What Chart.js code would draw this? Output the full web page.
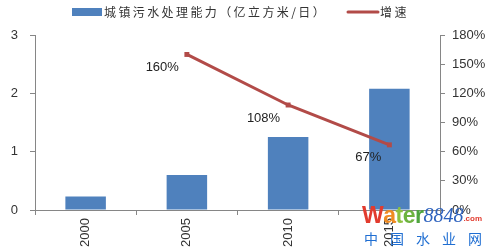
<!DOCTYPE html>
<html>
<head>
<meta charset="utf-8">
<script src="https://cdn.jsdelivr.net/npm/chart.js@4.4.1/dist/chart.umd.min.js"></script>
<style>
  html, body { margin: 0; padding: 0; background: #fff; }
  #wrap { width: 492px; height: 252px; position: relative; }
</style>
</head>
<body>
<div id="wrap"><canvas id="c" width="492" height="252"></canvas></div>
<script>
// Urban wastewater treatment capacity and its growth rate
const years = ['2000', '2005', '2010', '2015'];
const capacity = [0.23, 0.6, 1.25, 2.08];      // 亿立方米/日
const growth = [null, 160, 108, 67];             // %
const capacityTicks = [0, 1, 2, 3];
const growthTicks = [0, 30, 60, 90, 120, 150, 180];

const BLUE = '#4F81BD';
const RED = '#B24B48';
const AXIS = '#868686';
const TEXT = '#333333';
const TICK_FONT = { family: '"Liberation Sans", Arial, sans-serif', size: 13 };
const CJK = '"Noto Sans CJK SC", sans-serif';

// Percent labels beside the growth-rate points
const pointLabels = {
  id: 'pointLabels',
  afterDatasetsDraw(chart) {
    const meta = chart.getDatasetMeta(1);
    const ctx = chart.ctx;
    ctx.save();
    ctx.font = '13px "Liberation Sans", Arial, sans-serif';
    ctx.fillStyle = '#222';
    ctx.textAlign = 'right';
    ctx.textBaseline = 'middle';
    meta.data.forEach((pt, i) => {
      const v = growth[i];
      if (v == null) return;
      ctx.fillText(v + '%', pt.x - 8, pt.y + 13);
    });
    ctx.restore();
  }
};

// Legend row across the top
const topLegend = {
  id: 'topLegend',
  afterDraw(chart) {
    const ctx = chart.ctx;
    ctx.save();
    ctx.fillStyle = BLUE;
    ctx.fillRect(72, 8, 30, 8);
    ctx.strokeStyle = RED;
    ctx.lineWidth = 3;
    ctx.lineCap = 'round';
    ctx.beginPath();
    ctx.moveTo(348, 12);
    ctx.lineTo(378, 12);
    ctx.stroke();
    ctx.fillStyle = '#333';
    ctx.font = '12px ' + CJK;
    ctx.textBaseline = 'middle';
    ctx.letterSpacing = '2.4px';
    ctx.fillText(chart.data.datasets[0].label, 104, 12);
    ctx.fillText(chart.data.datasets[1].label, 380, 12);
    ctx.restore();
  }
};

// Site mark in the lower right corner
const siteMark = {
  id: 'siteMark',
  afterDraw(chart) {
    const ctx = chart.ctx;
    ctx.save();
    ctx.textBaseline = 'alphabetic';
    ctx.font = 'bold 23px "Liberation Sans", Arial, sans-serif';
    const parts = [['W', '#E23B2E'], ['a', '#F08C23'], ['t', '#8DC13F'], ['e', '#6DB33F'], ['r', '#4EA43E']];
    let x = 362;
    parts.forEach(([ch, col]) => {
      ctx.fillStyle = col;
      ctx.fillText(ch, x, 223);
      x += ctx.measureText(ch).width - 0.5;
    });
    ctx.font = 'italic 20px "Liberation Serif", "DejaVu Serif", serif';
    ctx.fillStyle = '#2D62BE';
    ctx.fillText('8848', x, 222);
    x += ctx.measureText('8848').width;
    ctx.font = 'bold 8px "Liberation Sans", Arial, sans-serif';
    ctx.fillStyle = '#E23B2E';
    ctx.fillText('.com', x, 221);
    ctx.font = '14px ' + CJK;
    ctx.fillStyle = '#1F6ED2';
    ctx.textAlign = 'center';
    ['中', '国', '水', '业', '网'].forEach((ch, i) => {
      ctx.fillText(ch, 371 + i * 26, 244);
    });
    ctx.restore();
  }
};

new Chart(document.getElementById('c'), {
  data: {
    labels: years,
    datasets: [
      {
        type: 'bar',
        label: '城镇污水处理能力（亿立方米/日）',
        data: capacity,
        backgroundColor: BLUE,
        borderWidth: 0,
        yAxisID: 'y',
        order: 2,
        categoryPercentage: 1.0,
        barPercentage: 0.4
      },
      {
        type: 'line',
        label: '增速',
        data: growth,
        borderColor: RED,
        backgroundColor: RED,
        borderWidth: 3,
        pointStyle: 'rect',
        pointRadius: 3.5,
        pointBorderWidth: 0,
        tension: 0,
        yAxisID: 'y1',
        order: 1
      }
    ]
  },
  options: {
    responsive: false,
    animation: false,
    devicePixelRatio: 1,
    layout: { padding: { top: 35, left: 0, right: 0, bottom: 0 } },
    plugins: { legend: { display: false }, tooltip: { enabled: false } },
    scales: {
      x: {
        offset: true,
        grid: { offset: true, drawOnChartArea: false, color: AXIS, tickLength: 5 },
        border: { color: AXIS },
        ticks: { color: TEXT, font: TICK_FONT, minRotation: 90, maxRotation: 90, padding: 3 },
        afterFit(s) { s.height = 42; }
      },
      y: {
        position: 'left',
        min: 0, max: 3,
        afterBuildTicks(s) { s.ticks = capacityTicks.map(v => ({ value: v })); },
        grid: { drawOnChartArea: false, color: AXIS, tickLength: 5 },
        border: { color: AXIS },
        ticks: { color: TEXT, font: TICK_FONT, padding: 12 },
        afterFit(s) { s.width = 35; }
      },
      y1: {
        position: 'right',
        min: 0, max: 180,
        afterBuildTicks(s) { s.ticks = growthTicks.map(v => ({ value: v })); },
        grid: { drawOnChartArea: false, color: AXIS, tickLength: 5 },
        border: { color: AXIS },
        ticks: { color: TEXT, font: TICK_FONT, padding: 7, callback: v => v + '%' },
        afterFit(s) { s.width = 52; }
      }
    }
  },
  plugins: [pointLabels, topLegend, siteMark]
});
</script>
</body>
</html>
